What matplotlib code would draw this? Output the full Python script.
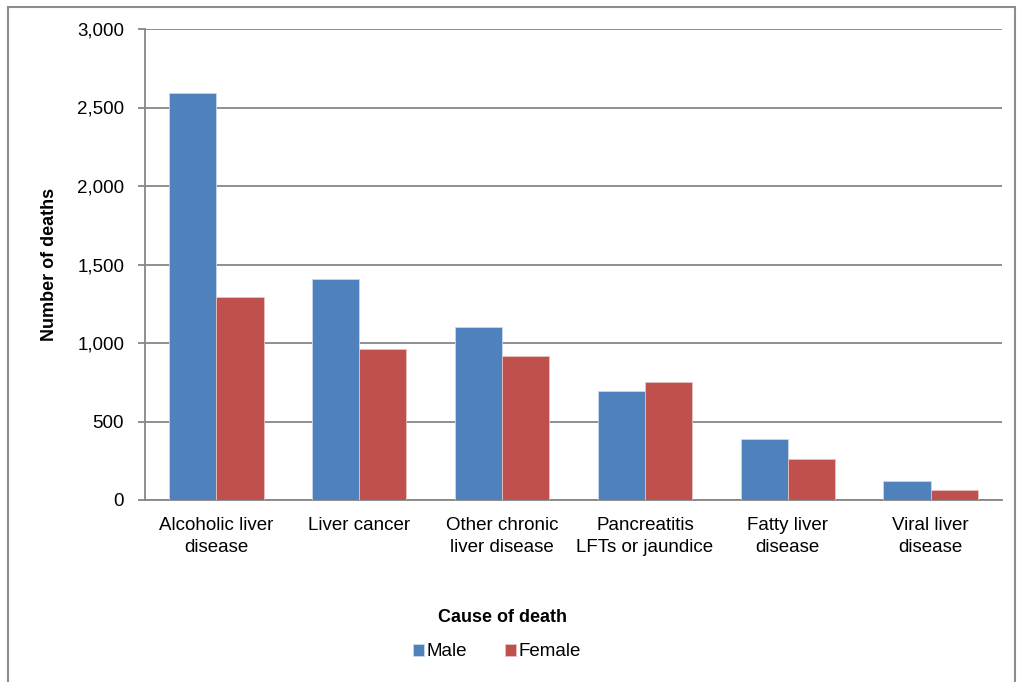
import matplotlib.pyplot as plt
import numpy as np
from matplotlib.patches import Rectangle
from matplotlib.ticker import FuncFormatter

plt.rcParams['font.family'] = ['Liberation Sans', 'DejaVu Sans']

causes = ["Alcoholic liver\ndisease", "Liver cancer", "Other chronic\nliver disease",
          "Pancreatitis\nLFTs or jaundice", "Fatty liver\ndisease", "Viral liver\ndisease"]
male = [2590, 1408, 1100, 697, 387, 123]
female = [1293, 962, 917, 754, 261, 66]

W, H = 1017, 682
fig = plt.figure(figsize=(W / 100, H / 100), dpi=100)

# outer chart border (partially cropped in the original)
fig.patches.append(Rectangle((8 / W, -0.05), (1015 - 8) / W, 1.05 - 7 / H,
                             transform=fig.transFigure, fill=False,
                             edgecolor="#8c8c8c", lw=1.5))

ax = fig.add_axes([145 / W, (H - 500) / H, (1002 - 145) / W, 471 / H])
x = np.arange(len(causes))
bw = 0.33
ax.bar(x - bw / 2, male, bw, color="#4F81BD", edgecolor="#c9d6ea", lw=0.6, label="Male", zorder=3)
ax.bar(x + bw / 2, female, bw, color="#C0504D", edgecolor="#e6c3c2", lw=0.6, label="Female", zorder=3)

ax.set_xlim(-0.5, len(causes) - 0.5)
ax.set_ylim(0, 3000)
ax.set_yticks(range(0, 3001, 500))
ax.yaxis.set_major_formatter(FuncFormatter(lambda v, p: f"{int(v):,}"))
ax.grid(axis="y", color="#868686", lw=1.3, zorder=0)
ax.set_xticks(x)
ax.set_xticklabels(causes, fontsize=13.5, linespacing=1.4)
ax.tick_params(axis="x", length=0, pad=12)
ax.tick_params(axis="y", length=5, width=1.3, color="#868686", labelsize=13.5, pad=10)
for s in ["top", "right"]:
    ax.spines[s].set_visible(False)
ax.spines["left"].set_color("#868686")
ax.spines["left"].set_linewidth(1.3)
ax.spines["bottom"].set_color("#868686")
ax.spines["bottom"].set_linewidth(1.3)

ax.set_ylabel("Number of deaths", fontsize=13, fontweight="bold", labelpad=14)
fig.text(503 / W, 1 - 617 / H, "Cause of death", ha="center", va="center",
         fontsize=13, fontweight="bold")
fig.legend(loc="center", bbox_to_anchor=(497 / W, 1 - 652 / H), ncol=2, frameon=False,
           fontsize=13.5, handlelength=0.6, handleheight=0.6, handletextpad=0.15,
           columnspacing=2.0)

fig.savefig("out.png", dpi=100)
